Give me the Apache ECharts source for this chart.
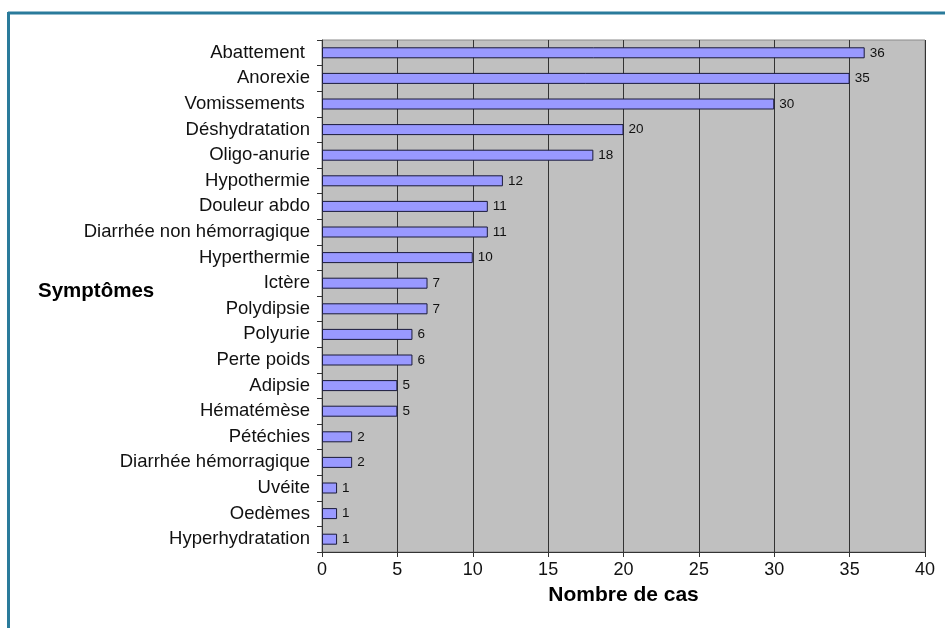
<!DOCTYPE html>
<html>
<head>
<meta charset="utf-8">
<script src="https://cdn.jsdelivr.net/npm/echarts@6/dist/echarts.min.js"></script>
<style>
  html, body { margin: 0; padding: 0; background: #fff; }
  #chart { width: 945px; height: 628px; }
</style>
</head>
<body>
<div id="chart"></div>
<script>
// Symptoms, from most to least frequent
const symptoms = [
  'Abattement ', 'Anorexie', 'Vomissements ', 'Déshydratation', 'Oligo-anurie',
  'Hypothermie', 'Douleur abdo', 'Diarrhée non hémorragique', 'Hyperthermie', 'Ictère',
  'Polydipsie', 'Polyurie', 'Perte poids', 'Adipsie', 'Hématémèse',
  'Pétéchies', 'Diarrhée hémorragique', 'Uvéite', 'Oedèmes', 'Hyperhydratation'
];
// Number of cases per symptom
const cases = [36, 35, 30, 20, 18, 12, 11, 11, 10, 7, 7, 6, 6, 5, 5, 2, 2, 1, 1, 1];

const yTitle = 'Symptômes';
const xTitle = 'Nombre de cas';

const FONT = '"Liberation Sans", Arial, sans-serif';

const chart = echarts.init(document.getElementById('chart'), null, { renderer: 'canvas' });

chart.setOption({
  animation: false,
  textStyle: { fontFamily: FONT },
  grid: {
    left: 322, top: 40, width: 603, height: 512,
    show: true,
    backgroundColor: '#C0C0C0',
    borderColor: '#8a8a8a',
    borderWidth: 1
  },
  xAxis: {
    type: 'value',
    min: 0, max: 40, interval: 5,
    name: xTitle,
    nameLocation: 'middle',
    nameGap: 33,
    nameTextStyle: { fontFamily: FONT, fontSize: 21, fontWeight: 'bold', color: '#000' },
    axisLine: { show: true, lineStyle: { color: '#333', width: 1 } },
    axisTick: { show: true, length: 5, lineStyle: { color: '#333' } },
    axisLabel: { fontFamily: FONT, fontSize: 18, color: '#111', margin: 9 },
    splitLine: { show: true, lineStyle: { color: '#333', width: 1 } }
  },
  yAxis: {
    type: 'category',
    inverse: true,
    data: symptoms,
    axisLine: { show: true, lineStyle: { color: '#333', width: 1 } },
    axisTick: { show: true, length: 5, lineStyle: { color: '#333' } },
    axisLabel: { fontFamily: FONT, fontSize: 18.5, color: '#111', margin: 12 },
    splitLine: { show: false }
  },
  series: [{
    type: 'bar',
    data: cases,
    barWidth: 11,
    itemStyle: { color: '#9999FF', borderColor: '#1a1a3a', borderWidth: 1 },
    label: {
      show: true,
      position: 'right',
      distance: 5,
      fontFamily: FONT,
      fontSize: 13.5,
      color: '#111'
    }
  }],
  graphic: [
    {
      type: 'text',
      left: 38, top: 281,
      style: { text: yTitle, font: 'bold 20.5px ' + FONT, fill: '#000' }
    },
    {
      type: 'line',
      shape: { x1: 8, y1: 13, x2: 945, y2: 13 },
      style: { stroke: '#2a7b9b', lineWidth: 3 }
    },
    {
      type: 'line',
      shape: { x1: 8.5, y1: 12, x2: 8.5, y2: 628 },
      style: { stroke: '#2a7b9b', lineWidth: 3 }
    }
  ]
});
</script>
</body>
</html>
